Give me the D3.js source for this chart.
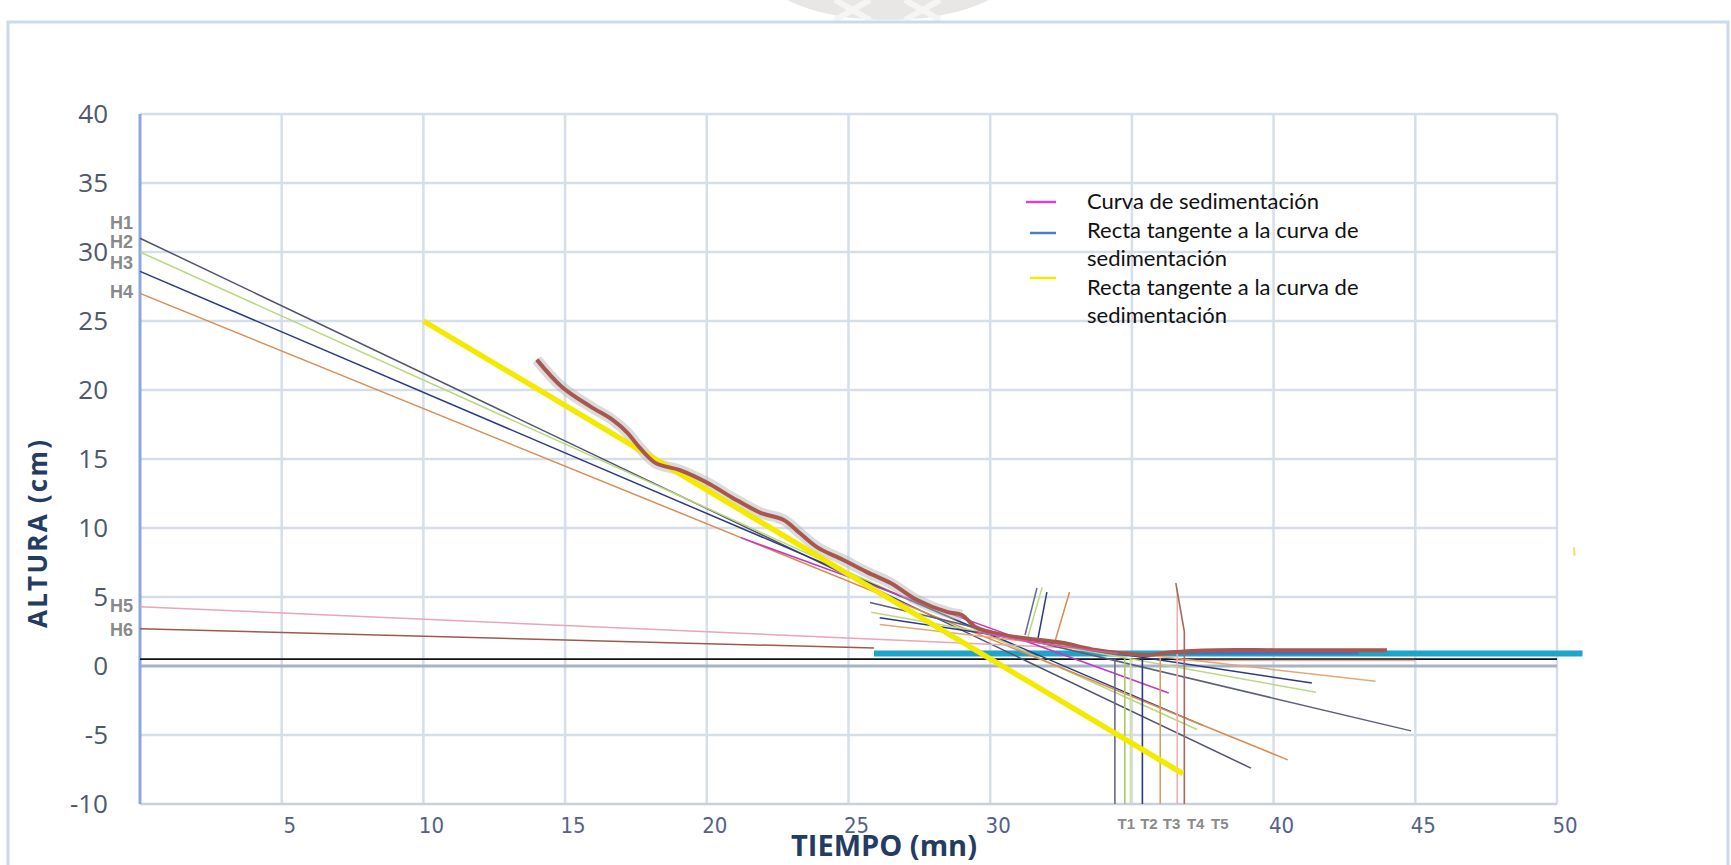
<!DOCTYPE html>
<html>
<head>
<meta charset="utf-8">
<script src="https://cdn.jsdelivr.net/npm/d3@7"></script>
<style>
  body { margin: 0; background: #ffffff; }
  svg { display: block; }
</style>
</head>
<body>
<div id="chart"></div>
<script>
// Tick values
const xTicks = [5, 10, 15, 20, 25, 30, 40, 45, 50];
const yTicks = [-10, -5, 0, 5, 10, 15, 20, 25, 30, 35, 40];
const xGrid = [5, 10, 15, 20, 25, 30, 35, 40, 45, 50];

// Sedimentation curve (time mn, height cm)
const curveT = [14.0, 14.9, 15.9, 16.7, 17.2, 17.6, 18.2, 19.05, 20.0, 20.9, 21.9, 22.7, 23.3, 23.9, 24.8, 25.65, 26.5, 27.4, 28.5, 29.0, 29.5, 30.3, 31.3, 32.5, 33.6, 34.8, 35.6, 36.4, 38.0, 40.0, 42.0, 44.0];
const curveH = [22.2, 20.2, 18.8, 17.8, 16.9, 15.9, 14.7, 14.2, 13.3, 12.2, 11.1, 10.6, 9.6, 8.6, 7.7, 6.8, 6.0, 4.8, 3.9, 3.7, 2.8, 2.3, 2.0, 1.7, 1.2, 0.9, 0.8, 1.0, 1.15, 1.15, 1.15, 1.15];

// Tangent lines H1..H6 starting on the height axis
const hNames = ["H1", "H2", "H3", "H4", "H5", "H6"];
const hStart = [31.0, 30.0, 28.6, 27.0, 4.3, 2.7];
const hEndT = [39.2, 37.3, 37.5, 40.5, 33.0, 25.9];
const hEndH = [-7.4, -4.6, -4.3, -6.8, 1.3, 1.3];
const hLabelH = [32.1, 30.7, 29.2, 27.1, 4.35, 2.6];
const hColors = ["#50546c", "#b9d77c", "#2c3a86", "#d98c52", "#e8a6b6", "#9c5a4e"];

// Short tangent lines from t = 26
const bT0 = [25.76, 25.8, 26.1, 26.1];
const bH0 = [4.6, 3.9, 3.5, 3.0];
const bT1 = [44.85, 41.5, 41.35, 43.6];
const bH1 = [-4.7, -1.9, -1.23, -1.1];
const bColors = ["#5c6078", "#bcd884", "#2c3a86", "#e5a678"];

// Steep segments near t = 31-33
const sT0 = [31.23, 31.33, 31.69, 32.3];
const sH0 = [2.25, 2.1, 2.03, 1.88];
const sT1 = [31.65, 31.83, 32.0, 32.8];
const sH1 = [5.65, 5.7, 5.36, 5.36];
const sColors = ["#6a6a90", "#b9d77c", "#2c3a86", "#d98c52"];

// Vertical lines down to T1..T5
const vT = [34.4, 34.75, 34.95, 35.37, 36.0, 36.6];
const vTop = [0.5, 0.5, 0.5, 0.6, 0.6, 5.6];
const vColors = ["#6a6a90", "#a9c962", "#cfe0a0", "#2c3a86", "#d4a060", "#e9b0b0"];
const tNames = ["T1", "T2", "T3", "T4", "T5"];
const tPos = [34.8, 35.6, 36.4, 37.25, 38.1];

// Magenta tangent, yellow tangent, base lines
const magT = [21.2, 36.3];
const magH = [9.3, -1.96];
const yelT = [10.0, 36.8];
const yelH = [25.0, -7.8];
const tealT = [25.9, 50.9];
const tealH = [0.9, 0.9];
const blackT = [0, 50];
const blackH = [0.5, 0.5];

const legendLabels = [
  ["Curva de sedimentación"],
  ["Recta tangente a la curva de", "sedimentación"],
  ["Recta tangente a la curva de", "sedimentación"]
];
const legendColors = ["#e040c4", "#4a7ec6", "#f4ec00"];

const W = 1731, H = 865;
const x = d3.scaleLinear().domain([0, 50]).range([140, 1557]);
const y = d3.scaleLinear().domain([-10, 40]).range([804, 114]);

const svg = d3.select("#chart").append("svg")
  .attr("width", W)
  .attr("height", H);

// page frame + faint watermark at the top
svg.append("ellipse")
  .attr("cx", 888).attr("cy", -30)
  .attr("rx", 126).attr("ry", 50)
  .attr("fill", "#e9e7e5");
svg.append("path")
  .attr("d", "M835,0 L870,20 M870,0 L835,20 M905,0 L940,20 M940,0 L905,20")
  .attr("stroke", "#f6f5f4").attr("stroke-width", 6);
svg.append("rect")
  .attr("x", 8).attr("y", 22)
  .attr("width", 1720).attr("height", 850)
  .attr("fill", "none")
  .attr("stroke", "#cbd9ec")
  .attr("stroke-width", 3);

// grid
const grid = svg.append("g");
grid.selectAll(".gx").data(xGrid).enter().append("line")
  .attr("x1", d => x(d)).attr("x2", d => x(d))
  .attr("y1", y(40)).attr("y2", y(-10))
  .attr("stroke", "#d6dee9").attr("stroke-width", 2.5);
grid.selectAll(".gy").data(yTicks).enter().append("line")
  .attr("x1", x(0)).attr("x2", x(50))
  .attr("y1", d => y(d)).attr("y2", d => y(d))
  .attr("stroke", d => d === 0 ? "#a6b4c4" : d === -10 ? "#c8d0dc" : "#d6dee9")
  .attr("stroke-width", d => d === 0 ? 3 : 2.5);
grid.append("line")
  .attr("x1", x(0)).attr("x2", x(0))
  .attr("y1", y(40)).attr("y2", y(-10))
  .attr("stroke", "#90a6e0").attr("stroke-width", 3);

// tick labels
svg.append("g").selectAll("text").data(yTicks).enter().append("text")
  .attr("x", x(0) - 32)
  .attr("y", d => y(d) + 9)
  .attr("text-anchor", "end")
  .attr("font-family", "Open Sans, sans-serif")
  .attr("font-size", 26)
  .attr("fill", "#4e586a")
  .text(d => d);
svg.append("g").selectAll("text").data(xTicks).enter().append("text")
  .attr("x", d => x(d) + 8)
  .attr("y", 833)
  .attr("text-anchor", "middle")
  .attr("font-family", "Liberation Sans Narrow, DejaVu Sans Condensed, sans-serif")
  .attr("font-size", 22)
  .attr("fill", "#52618a")
  .text(d => d);

// axis titles
svg.append("text")
  .attr("transform", "translate(47,534) rotate(-90)")
  .attr("text-anchor", "middle")
  .attr("font-family", "Open Sans, sans-serif")
  .attr("font-weight", "bold")
  .attr("font-size", 26)
  .attr("textLength", 188)
  .attr("lengthAdjust", "spacing")
  .attr("fill", "#243b63")
  .text("ALTURA (cm)");
svg.append("text")
  .attr("x", 884).attr("y", 856)
  .attr("text-anchor", "middle")
  .attr("font-family", "Open Sans, sans-serif")
  .attr("font-weight", "bold")
  .attr("font-size", 29)
  .attr("fill", "#243b63")
  .text("TIEMPO (mn)");

const plot = svg.append("g");
const seg = (t0, h0, t1, h1, color, w) => plot.append("line")
  .attr("x1", x(t0)).attr("y1", y(h0))
  .attr("x2", x(t1)).attr("y2", y(h1))
  .attr("stroke", color).attr("stroke-width", w);

// black reference and teal band
seg(blackT[0], blackH[0], blackT[1], blackH[1], "#111111", 1.6);
seg(tealT[0], tealH[0], tealT[1], tealH[1], "#1ea3c9", 6);
seg(36.5, 0.95, 43.0, 0.95, "#3f73c0", 3);
seg(36.5, 0.4, 45.0, 0.4, "#e8b0a0", 1.5);

// H lines
hNames.forEach((n, i) => seg(0, hStart[i], hEndT[i], hEndH[i], hColors[i], 1.5));
// short tangents
bT0.forEach((t, i) => seg(t, bH0[i], bT1[i], bH1[i], bColors[i], 1.5));
sT0.forEach((t, i) => seg(t, sH0[i], sT1[i], sH1[i], sColors[i], 1.5));
seg(magT[0], magH[0], magT[1], magH[1], "#c33ac0", 1.5);

// verticals
vT.forEach((t, i) => seg(t, -10, t, vTop[i], vColors[i], 1.6));
plot.append("path")
  .datum([[36.55, 6.0], [36.85, 2.5], [36.85, -10]])
  .attr("d", d3.line().x(d => x(d[0])).y(d => y(d[1])))
  .attr("fill", "none").attr("stroke", "#a66a58").attr("stroke-width", 1.6);

// sedimentation curve
const curve = curveT.map((t, i) => [t, curveH[i]]);
const line = d3.line().x(d => x(d[0])).y(d => y(d[1])).curve(d3.curveCatmullRom);
plot.append("path").datum(curve.filter(d => d[0] <= 29))
  .attr("d", line).attr("fill", "none")
  .attr("stroke", "#b8b8b8").attr("stroke-opacity", 0.5).attr("stroke-width", 11);

// yellow tangent
seg(yelT[0], yelH[0], yelT[1], yelH[1], "#f3ea00", 5.5);

plot.append("path").datum(curve)
  .attr("d", line).attr("fill", "none")
  .attr("stroke", "#a9564f").attr("stroke-width", 4);
plot.append("path")
  .datum([[29.5, 2.5], [31, 1.9], [33, 1.3], [34.5, 0.9]])
  .attr("d", line).attr("fill", "none")
  .attr("stroke", "#d65aa8").attr("stroke-width", 1.5);

// small mark on the right
seg(50.6, 8.6, 50.62, 8.0, "#f0e070", 2);

// H labels
svg.append("g").selectAll("text").data(hNames).enter().append("text")
  .attr("x", x(0) - 7)
  .attr("y", (d, i) => y(hLabelH[i]) + 6)
  .attr("text-anchor", "end")
  .attr("font-family", "Liberation Sans Narrow, sans-serif")
  .attr("font-weight", "bold")
  .attr("font-size", 18)
  .attr("fill", "#8a8a8a")
  .text(d => d);

// T labels
svg.append("g").selectAll("text").data(tNames).enter().append("text")
  .attr("x", (d, i) => x(tPos[i]))
  .attr("y", 829)
  .attr("text-anchor", "middle")
  .attr("font-family", "Liberation Sans Narrow, sans-serif")
  .attr("font-weight", "bold")
  .attr("font-size", 15)
  .attr("fill", "#8a8a8a")
  .text(d => d);

// legend
const lg = svg.append("g").attr("transform", "translate(1026,0)");
const rowGap = 28.5;
const markY = [202, 233, 278];
let row = 0;
legendLabels.forEach((lines, i) => {
  lg.append("line")
    .attr("x1", i === 0 ? 0 : 4).attr("x2", 30)
    .attr("y1", markY[i]).attr("y2", markY[i])
    .attr("stroke", legendColors[i]).attr("stroke-width", 2.5);
  lines.forEach((s, j) => {
    lg.append("text")
      .attr("x", 61).attr("y", 209 + (row + j) * rowGap)
      .attr("font-family", "Lato, sans-serif")
      .attr("font-size", 22)
      .attr("fill", "#111")
      .text(s);
  });
  row += lines.length;
});
</script>
</body>
</html>
